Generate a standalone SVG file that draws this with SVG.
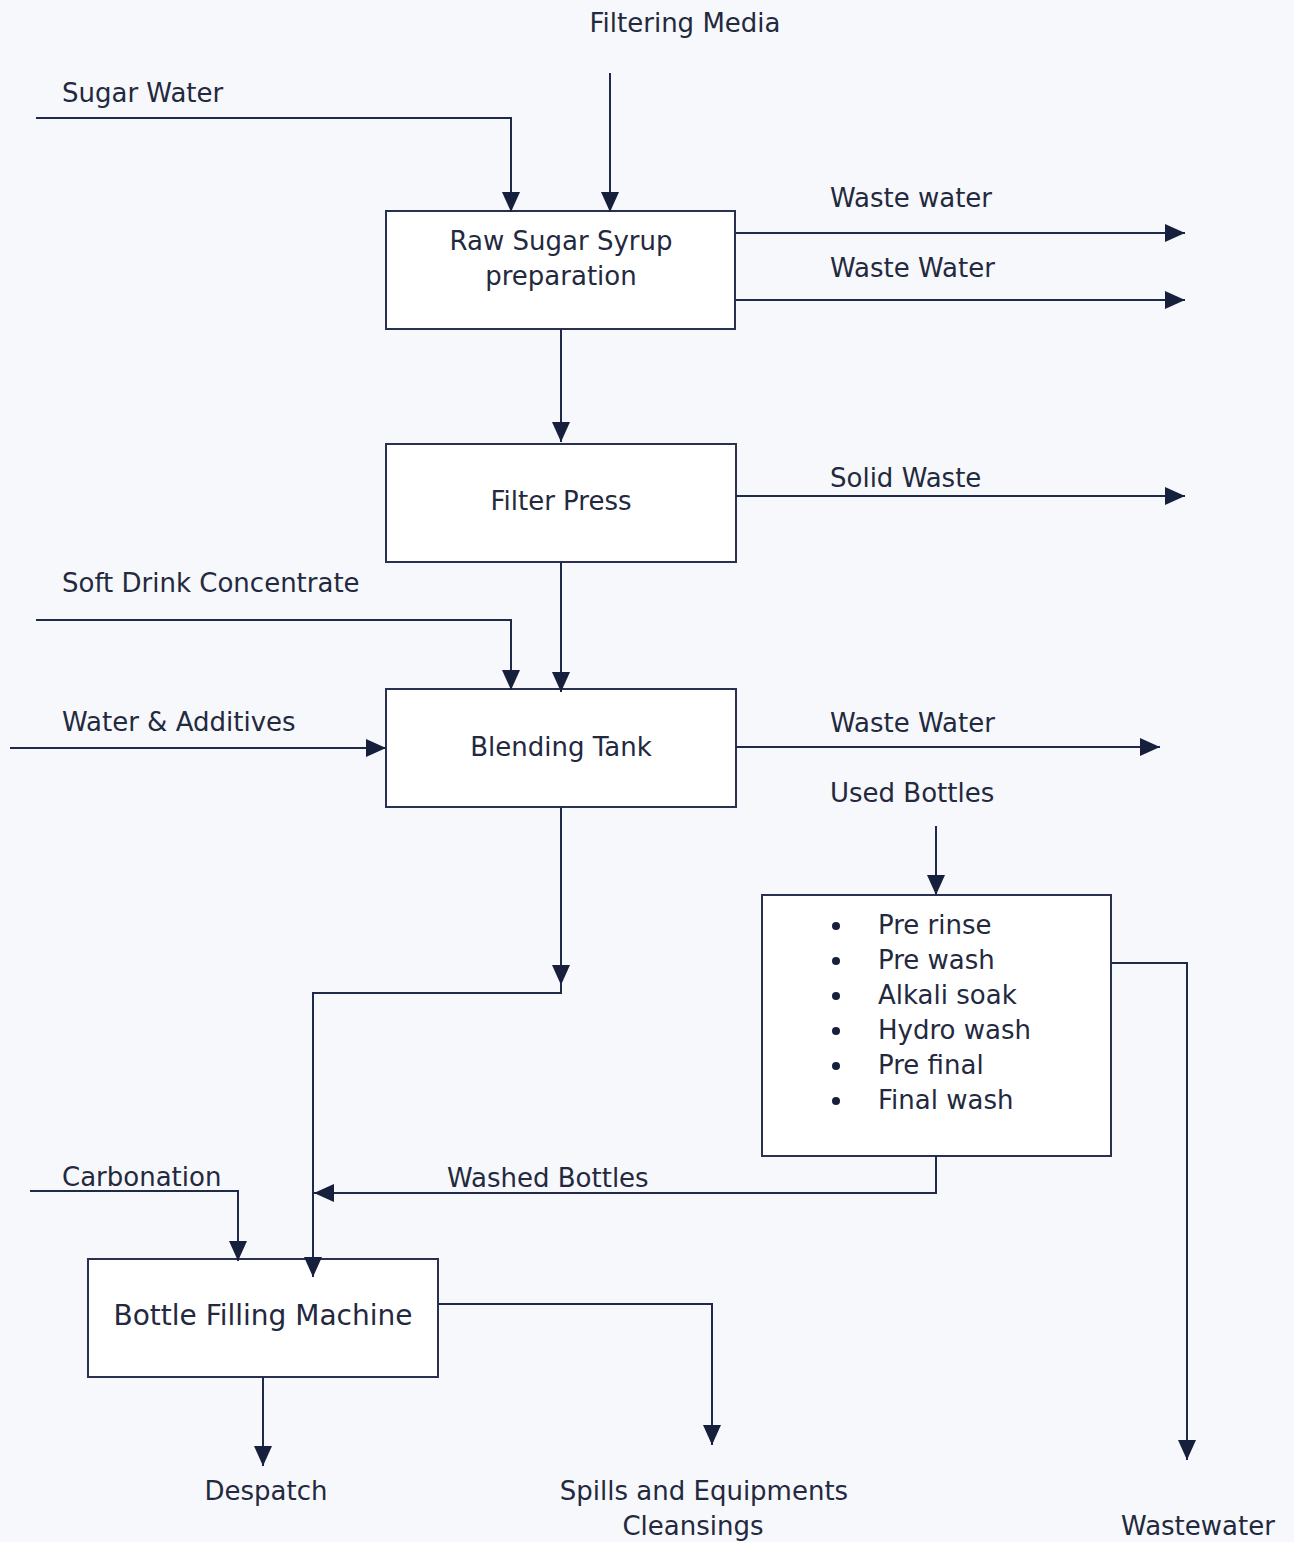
<svg xmlns="http://www.w3.org/2000/svg" width="1294" height="1542" viewBox="0 0 1294 1542">
<style>
.t{font-family:"DejaVu Sans","Liberation Sans",sans-serif;font-size:26px;fill:#23293e}
.c{text-anchor:middle}
.big{font-size:28px}
.box{fill:#ffffff;stroke:#2a3150;stroke-width:2}
.ln{fill:none;stroke:#1f2a4a;stroke-width:2}
.ar{marker-end:url(#ah)}
</style>
<defs>
<marker id="ah" markerUnits="userSpaceOnUse" markerWidth="22" markerHeight="18" refX="20" refY="9" orient="auto">
<path d="M0,0 L20,9 L0,18 Z" fill="#16203c"/>
</marker>
</defs>
<rect width="1294" height="1542" fill="#f7f8fb"/>
<g id="raw-sugar-syrup">
<rect class="box" x="386" y="211" width="349" height="118"/>
<text class="t c" x="561" y="250">Raw Sugar Syrup</text>
<text class="t c" x="561" y="285">preparation</text>
</g>
<g id="filter-press">
<rect class="box" x="386" y="444" width="350" height="118"/>
<text class="t c" x="561" y="510">Filter Press</text>
</g>
<g id="blending-tank">
<rect class="box" x="386" y="689" width="350" height="118"/>
<text class="t c" x="561" y="756">Blending Tank</text>
</g>
<g id="bottle-washing">
<rect class="box" x="762" y="895" width="349" height="261"/>
<g fill="#16203c">
<circle cx="836" cy="926" r="4"/>
<circle cx="836" cy="961" r="4"/>
<circle cx="836" cy="996" r="4"/>
<circle cx="836" cy="1031" r="4"/>
<circle cx="836" cy="1066" r="4"/>
<circle cx="836" cy="1101" r="4"/>
</g>
<text class="t" x="878" y="934">Pre rinse</text>
<text class="t" x="878" y="969">Pre wash</text>
<text class="t" x="878" y="1004">Alkali soak</text>
<text class="t" x="878" y="1039">Hydro wash</text>
<text class="t" x="878" y="1074">Pre final</text>
<text class="t" x="878" y="1109">Final wash</text>
</g>
<g id="bottle-filling">
<rect class="box" x="88" y="1259" width="350" height="118"/>
<text class="t c big" x="263" y="1325">Bottle Filling Machine</text>
</g>
<g id="connectors">
<path class="ln ar" d="M610,73 V212"/>
<path class="ln ar" d="M36,118 H511 V212"/>
<path class="ln ar" d="M736,233 H1185"/>
<path class="ln ar" d="M736,300 H1185"/>
<path class="ln ar" d="M561,329 V442"/>
<path class="ln ar" d="M736,496 H1185"/>
<path class="ln ar" d="M36,620 H511 V690"/>
<path class="ln ar" d="M561,562 V692"/>
<path class="ln ar" d="M10,748 H386"/>
<path class="ln ar" d="M736,747 H1160"/>
<path class="ln ar" d="M936,826 V895"/>
<path class="ln ar" d="M561,807 V985"/>
<path class="ln" d="M561,983 V993"/>
<path class="ln ar" d="M562,993 H313 V1277"/>
<path class="ln ar" d="M1111,963 H1187 V1460"/>
<path class="ln ar" d="M936,1156 V1193 H314"/>
<path class="ln ar" d="M30,1191 H238 V1261"/>
<path class="ln ar" d="M438,1304 H712 V1445"/>
<path class="ln ar" d="M263,1377 V1466"/>
</g>
<g id="labels">
<text class="t c" x="685" y="32">Filtering Media</text>
<text class="t" x="62" y="102">Sugar Water</text>
<text class="t" x="830" y="207">Waste water</text>
<text class="t" x="830" y="277">Waste Water</text>
<text class="t" x="830" y="487">Solid Waste</text>
<text class="t" x="62" y="592">Soft Drink Concentrate</text>
<text class="t" x="62" y="731">Water &amp; Additives</text>
<text class="t" x="830" y="732">Waste Water</text>
<text class="t" x="830" y="802">Used Bottles</text>
<text class="t" x="62" y="1186">Carbonation</text>
<text class="t" x="447" y="1187">Washed Bottles</text>
<text class="t c" x="266" y="1500">Despatch</text>
<text class="t c" x="704" y="1500">Spills and Equipments</text>
<text class="t c" x="693" y="1535">Cleansings</text>
<text class="t c" x="1198" y="1535">Wastewater</text>
</g>
</svg>
